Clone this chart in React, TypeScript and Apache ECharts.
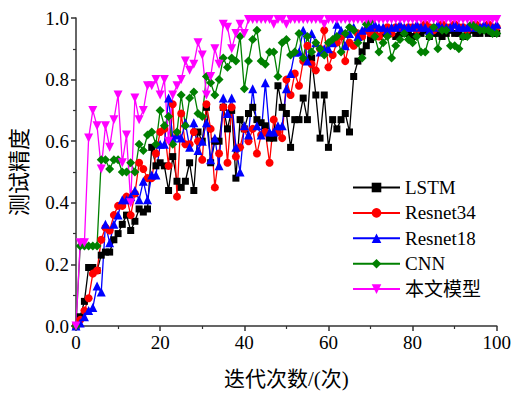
import React, { useEffect, useRef } from "react";
import * as echarts from "echarts";

const seriesNames = ["LSTM", "Resnet34", "Resnet18", "CNN", "本文模型"];

const iterations: number[] = Array.from({ length: 101 }, (_, i) => i);

const lstm = [
  0, 0.03, 0.08, 0.19, 0.19, 0.18, 0.23, 0.24, 0.24, 0.28,
  0.30, 0.33, 0.36, 0.31, 0.34, 0.38, 0.37, 0.38, 0.58, 0.52,
  0.53, 0.52, 0.44, 0.55, 0.47, 0.45, 0.47, 0.53, 0.44, 0.63,
  0.60, 0.71, 0.53, 0.60, 0.60, 0.71, 0.64, 0.70, 0.48, 0.67,
  0.64, 0.69, 0.71, 0.67, 0.66, 0.65, 0.61, 0.61, 0.78, 0.71,
  0.69, 0.58, 0.67, 0.67, 0.74, 0.67, 0.87, 0.75, 0.61, 0.75,
  0.58, 0.67, 0.64, 0.67, 0.69, 0.63, 0.81, 0.86, 0.89, 0.91,
  0.93, 0.95, 0.94, 0.95, 0.96, 0.95, 0.94, 0.95, 0.96, 0.95,
  0.94, 0.95, 0.95, 0.96, 0.94, 0.95, 0.95, 0.94, 0.95, 0.96,
  0.95, 0.95, 0.94, 0.95, 0.96, 0.95, 0.95, 0.96, 0.95, 0.95, 0.95,
];

const resnet34 = [
  0, 0.02, 0.05, 0.09, 0.17, 0.18, 0.28, 0.32, 0.31, 0.36,
  0.39, 0.39, 0.42, 0.36, 0.43, 0.53, 0.51, 0.48, 0.48, 0.56,
  0.63, 0.64, 0.52, 0.72, 0.42, 0.69, 0.59, 0.59, 0.63, 0.60,
  0.54, 0.72, 0.64, 0.45, 0.56, 0.71, 0.53, 0.71, 0.55, 0.58,
  0.64, 0.60, 0.64, 0.56, 0.62, 0.63, 0.53, 0.67, 0.63, 0.61,
  0.80, 0.75, 0.82, 0.78, 0.86, 0.91, 0.85, 0.83, 0.90, 0.96,
  0.84, 0.88, 0.92, 0.94, 0.86, 0.92, 0.91, 0.95, 0.94, 0.96,
  0.95, 0.96, 0.94, 0.96, 0.97, 0.95, 0.97, 0.97, 0.96, 0.97,
  0.97, 0.96, 0.97, 0.98, 0.97, 0.96, 0.97, 0.98, 0.97, 0.97,
  0.98, 0.97, 0.97, 0.96, 0.97, 0.98, 0.97, 0.97, 0.98, 0.97, 0.97,
];

const resnet18 = [
  0, 0.01, 0.03, 0.05, 0.06, 0.13, 0.11, 0.33, 0.27, 0.33,
  0.36, 0.41, 0.41, 0.42, 0.44, 0.41, 0.47, 0.41, 0.49, 0.49,
  0.59, 0.59, 0.74, 0.61, 0.62, 0.61, 0.66, 0.58, 0.66, 0.57,
  0.60, 0.66, 0.54, 0.61, 0.52, 0.74, 0.69, 0.74, 0.58, 0.50,
  0.65, 0.62, 0.77, 0.65, 0.62, 0.79, 0.63, 0.63, 0.65, 0.65,
  0.77, 0.82, 0.89, 0.89, 0.96, 0.86, 0.95, 0.92, 0.89, 0.90,
  0.90, 0.92, 0.98, 0.96, 0.91, 0.95, 0.97, 0.94, 0.96, 0.97,
  0.97, 0.98, 0.97, 0.97, 0.96, 0.97, 0.97, 0.98, 0.97, 0.97,
  0.97, 0.98, 0.97, 0.97, 0.96, 0.97, 0.98, 0.97, 0.97, 0.97,
  0.98, 0.97, 0.97, 0.97, 0.98, 0.97, 0.97, 0.98, 0.97, 0.97, 0.98,
];

const cnn = [
  0, 0.26, 0.26, 0.26, 0.26, 0.26, 0.54, 0.54, 0.51, 0.54,
  0.54, 0.50, 0.50, 0.53, 0.50, 0.59, 0.57, 0.62, 0.63, 0.59,
  0.70, 0.65, 0.68, 0.59, 0.63, 0.75, 0.65, 0.74, 0.76, 0.69,
  0.68, 0.81, 0.79, 0.75, 0.80, 0.87, 0.84, 0.87, 0.86, 0.94,
  0.77, 0.86, 0.93, 0.96, 0.86, 0.85, 0.89, 0.89, 0.81, 0.92,
  0.93, 0.88, 0.89, 0.95, 0.87, 0.94, 0.89, 0.92, 0.90, 0.88,
  0.92, 0.93, 0.94, 0.89, 0.95, 0.97, 0.96, 0.92, 0.87, 0.98,
  0.99, 0.94, 0.89, 0.92, 0.94, 0.87, 0.91, 0.93, 0.95, 0.93,
  0.92, 0.94, 0.89, 0.89, 0.94, 0.97, 0.90, 0.96, 0.96, 0.91,
  0.91, 0.90, 0.94, 0.94, 0.98, 0.97, 0.96, 0.96, 0.96, 0.95, 0.95,
];

const ours = [
  0, 0.27, 0.27, 0.61, 0.70, 0.65, 0.51, 0.65, 0.58, 0.67,
  0.75, 0.53, 0.62, 0.40, 0.74, 0.67, 0.70, 0.78, 0.78, 0.80,
  0.75, 0.80, 0.60, 0.75, 0.78, 0.80, 0.86, 0.83, 0.85, 0.92,
  0.88, 0.75, 0.81, 0.90, 0.85, 0.98, 0.97, 0.90, 0.95, 0.98,
  0.95, 0.995, 0.995, 0.995, 0.995, 0.995, 0.995, 0.98, 0.995, 0.995,
  0.98, 0.995, 0.995, 0.995, 0.995, 0.995, 0.995, 0.995, 0.995, 0.98,
  0.995, 0.995, 0.995, 0.995, 0.995, 0.995, 0.995, 0.995, 0.995, 0.995,
  0.995, 0.995, 0.995, 0.995, 0.995, 0.995, 0.995, 0.995, 0.995, 0.995,
  0.995, 0.995, 0.995, 0.995, 0.995, 0.995, 0.995, 0.995, 0.995, 0.995,
  0.995, 0.995, 0.995, 0.995, 0.995, 0.995, 0.995, 0.995, 0.995, 0.995, 0.995,
];

const seriesValues = [lstm, resnet34, resnet18, cnn, ours];
const colors = ["#000000", "#FF0000", "#0000FF", "#008000", "#FF00FF"];
const symbols = ["rect", "circle", "triangle", "diamond", "triangle"];
const symbolSizes = [7, 8, 9, 9, 9];
const rotations = [0, 0, 0, 0, 180];

const FONT = "'Liberation Serif', 'Times New Roman', 'Noto Sans CJK SC', serif";

export default function App() {
  const ref = useRef<HTMLDivElement>(null);
  useEffect(() => {
    if (!ref.current) return;
    const chart = echarts.init(ref.current, undefined, { renderer: "svg" });
    chart.setOption({
      animation: false,
      backgroundColor: "#ffffff",
      grid: { left: 74, right: 17, top: 18, bottom: 63, containLabel: false },
      legend: {
        orient: "vertical",
        left: 352,
        top: 178,
        itemWidth: 47,
        itemHeight: 12,
        itemGap: 6.4,
        padding: 0,
        textStyle: { fontFamily: FONT, fontSize: 19, color: "#000" },
        data: seriesNames,
      },
      xAxis: {
        type: "value",
        min: 0,
        max: 100,
        interval: 20,
        name: "迭代次数/(次)",
        nameLocation: "middle",
        nameGap: 42,
        nameTextStyle: { fontFamily: FONT, fontSize: 21, color: "#000" },
        axisLine: { show: true, lineStyle: { color: "#333", width: 1.5 } },
        axisTick: { show: true, inside: false, length: 5, lineStyle: { color: "#333", width: 1.5 } },
        minorTick: { show: true, splitNumber: 2, length: 3, lineStyle: { color: "#333", width: 1.2 } },
        axisLabel: { fontFamily: FONT, fontSize: 19, color: "#000", margin: 7 },
        splitLine: { show: false },
      },
      yAxis: {
        type: "value",
        min: 0,
        max: 1,
        interval: 0.2,
        name: "测试精度",
        nameLocation: "middle",
        nameGap: 46,
        nameRotate: 90,
        nameTextStyle: { fontFamily: FONT, fontSize: 22, color: "#000" },
        axisLine: { show: true, lineStyle: { color: "#333", width: 1.5 } },
        axisTick: { show: true, inside: false, length: 5, lineStyle: { color: "#333", width: 1.5 } },
        minorTick: { show: true, splitNumber: 2, length: 3, lineStyle: { color: "#333", width: 1.2 } },
        axisLabel: {
          fontFamily: FONT,
          fontSize: 19,
          color: "#000",
          margin: 7,
          formatter: (v: number) => v.toFixed(1),
        },
        splitLine: { show: false },
      },
      series: seriesNames.map((name, k) => ({
        name,
        type: "line",
        data: iterations.map((x, i) => [x, seriesValues[k][i]]),
        symbol: symbols[k],
        symbolSize: symbolSizes[k],
        symbolRotate: rotations[k],
        showAllSymbol: true,
        clip: false,
        lineStyle: { color: colors[k], width: 1.3 },
        itemStyle: { color: colors[k] },
      })),
    });
    return () => chart.dispose();
  }, []);
  return (
    <div
      ref={ref}
      style={{ position: "fixed", left: 0, top: 0, width: 514, height: 394 }}
    />
  );
}
